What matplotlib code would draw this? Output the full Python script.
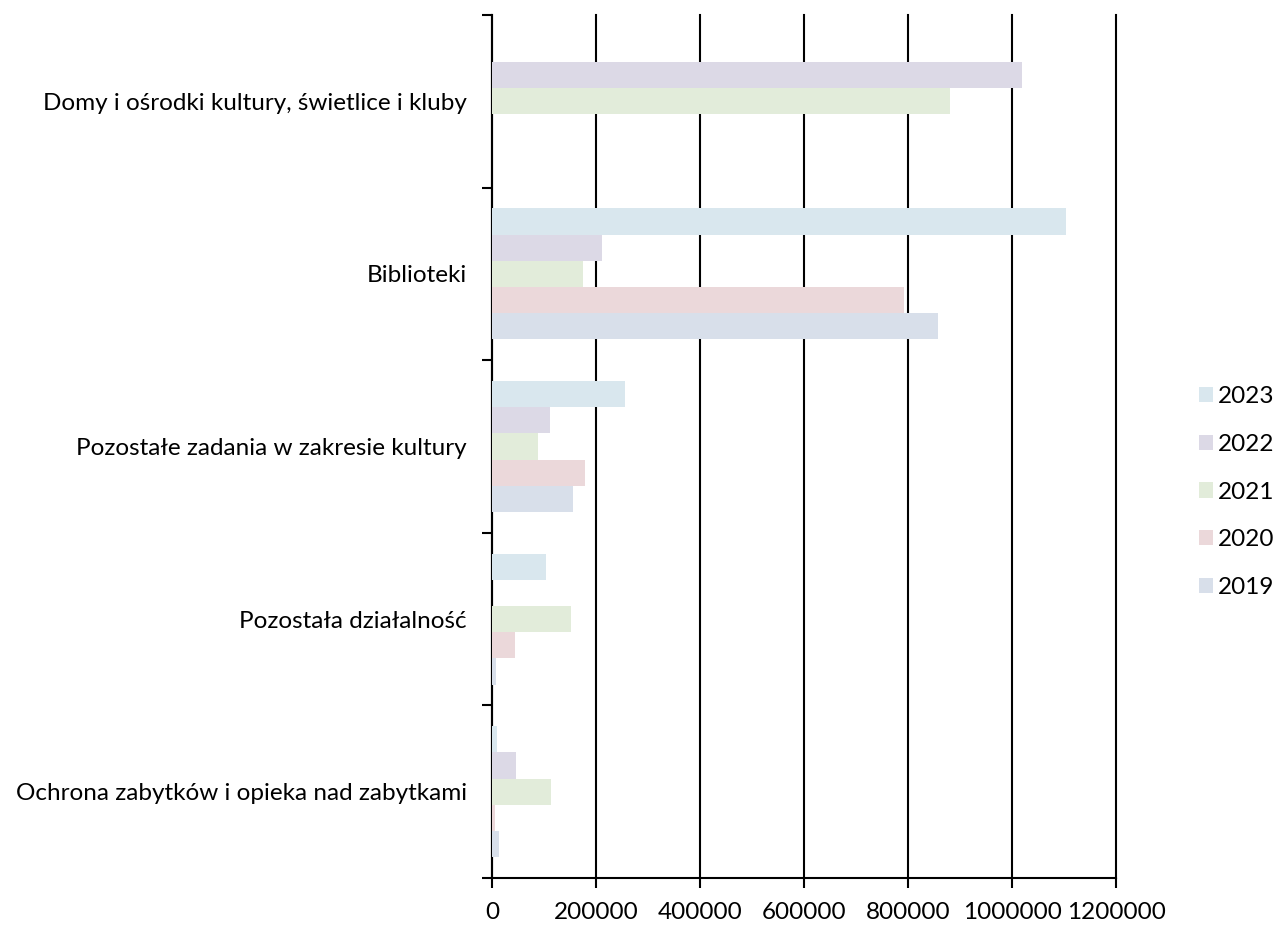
"""Horizontal grouped bars: spending on culture by category, 2019-2023."""

import matplotlib

matplotlib.use("Agg")
import matplotlib.pyplot as plt
import numpy as np

categories = [
    "Ochrona zabytków i opieka nad zabytkami",
    "Pozostała działalność",
    "Pozostałe zadania w zakresie kultury",
    "Biblioteki",
    "Domy i ośrodki kultury, świetlice i kluby",
]
years = ["2023", "2022", "2021", "2020", "2019"]

# values per year, same order as categories (bottom to top)
values_2023 = [9000, 104000, 256000, 1104000, 0]
values_2022 = [47000, 0, 111000, 211000, 1019000]
values_2021 = [113000, 152000, 89000, 175000, 881000]
values_2020 = [5000, 44000, 179000, 792000, 0]
values_2019 = [13500, 7700, 155000, 858000, 0]

series = [values_2023, values_2022, values_2021, values_2020, values_2019]
colors = ["#d9e7ee", "#dcd9e6", "#e2ecda", "#ebd8da", "#d8dfea"]

plt.rcParams["font.family"] = ["Lato", "DejaVu Sans"]
FONT_SIZE = 17.5

figure = plt.figure(figsize=(12.82, 9.25), dpi=100)
axis = figure.add_axes([0.3838, 0.0508, 0.4870, 0.9330])

bar_height = 0.152
positions = np.arange(len(categories))
for index, (year, values, color) in enumerate(zip(years, series, colors)):
    offset = (2 - index) * bar_height
    axis.barh(positions + offset, values, height=bar_height, color=color, label=year, zorder=3)

axis.set_xlim(0, 1200000)
axis.set_ylim(-0.5, len(categories) - 0.5)
axis.set_xticks(np.arange(0, 1200001, 200000))
axis.set_xticklabels([f"{v:d}" for v in range(0, 1200001, 200000)], fontsize=FONT_SIZE)
axis.tick_params(axis="x", direction="out", length=7, width=1.5, pad=10)
axis.xaxis.grid(True, color="black", linewidth=1.5, zorder=1)
for line in axis.get_xgridlines():
    line.set_clip_on(False)

# category ticks sit on the group boundaries, labels at the group centres
axis.set_yticks(np.arange(-0.5, len(categories), 1.0))
axis.set_yticklabels([])
axis.set_yticks(positions, minor=True)
axis.set_yticklabels(categories, minor=True, fontsize=FONT_SIZE)
axis.tick_params(axis="y", which="major", direction="out", length=7, width=1.5)
axis.tick_params(axis="y", which="minor", length=0, pad=18)

for side in ("top", "right"):
    axis.spines[side].set_visible(False)
for side in ("left", "bottom"):
    axis.spines[side].set_linewidth(1.5)

legend = figure.legend(
    loc="center left",
    bbox_to_anchor=(0.918, 0.468),
    frameon=False,
    fontsize=FONT_SIZE,
    handlelength=0.6,
    handleheight=0.6,
    handletextpad=0.2,
    labelspacing=1.1,
)

figure.savefig("out.png", dpi=100)
